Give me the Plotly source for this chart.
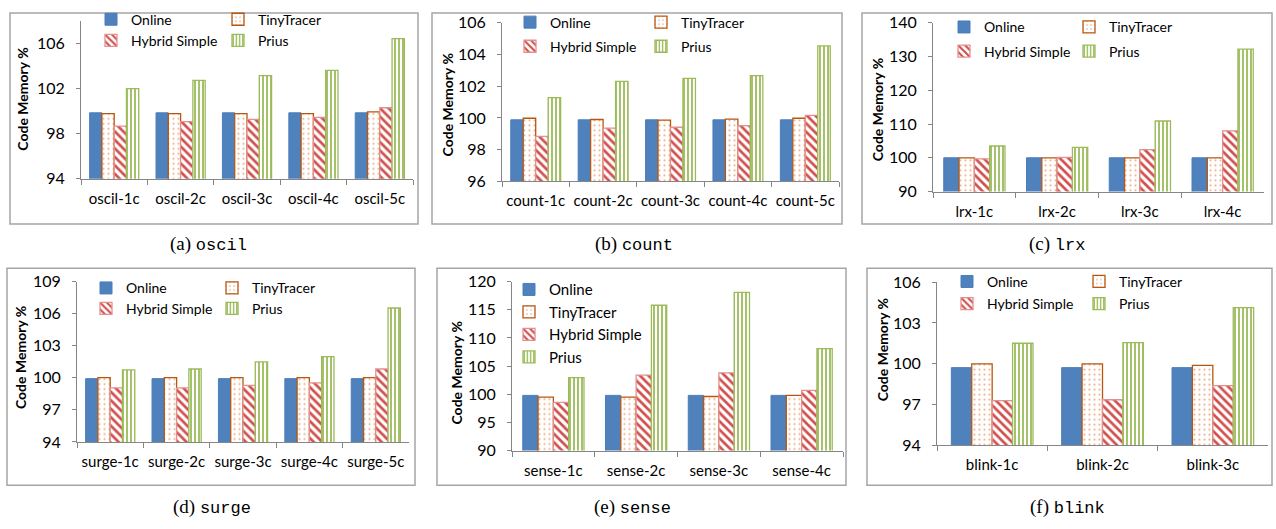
import plotly.graph_objects as go

W, H = 1276, 529

# ---------------- data ----------------
series_names = ["Online", "TinyTracer", "Hybrid Simple", "Prius"]

oscil_cats = ["oscil-1c", "oscil-2c", "oscil-3c", "oscil-4c", "oscil-5c"]
oscil_online = [99.86, 99.86, 99.86, 99.86, 99.86]
oscil_tiny = [99.78, 99.78, 99.78, 99.78, 99.94]
oscil_hybrid = [98.68, 99.08, 99.28, 99.45, 100.31]
oscil_prius = [102.02, 102.74, 103.17, 103.63, 106.45]

count_cats = ["count-1c", "count-2c", "count-3c", "count-4c", "count-5c"]
count_online = [99.88, 99.88, 99.88, 99.88, 99.88]
count_tiny = [99.98, 99.90, 99.86, 99.92, 99.98]
count_hybrid = [98.84, 99.35, 99.41, 99.51, 100.16]
count_prius = [101.28, 102.31, 102.49, 102.67, 104.55]

lrx_cats = ["lrx-1c", "lrx-2c", "lrx-3c", "lrx-4c"]
lrx_online = [100.0, 100.0, 100.0, 100.0]
lrx_tiny = [100.0, 100.0, 100.0, 100.0]
lrx_hybrid = [99.7, 100.1, 102.4, 108.0]
lrx_prius = [103.5, 103.1, 110.9, 132.2]

surge_cats = ["surge-1c", "surge-2c", "surge-3c", "surge-4c", "surge-5c"]
surge_online = [99.92, 99.92, 99.92, 99.92, 99.92]
surge_tiny = [100.02, 100.02, 100.02, 100.02, 100.02]
surge_hybrid = [99.05, 99.05, 99.29, 99.53, 100.82]
surge_prius = [100.73, 100.82, 101.48, 101.97, 106.53]

sense_cats = ["sense-1c", "sense-2c", "sense-3c", "sense-4c"]
sense_online = [99.8, 99.8, 99.8, 99.8]
sense_tiny = [99.48, 99.5, 99.6, 99.8]
sense_hybrid = [98.56, 103.4, 103.8, 100.67]
sense_prius = [102.96, 115.8, 118.1, 108.1]

blink_cats = ["blink-1c", "blink-2c", "blink-3c"]
blink_online = [99.72, 99.72, 99.72]
blink_tiny = [100.0, 100.0, 99.88]
blink_hybrid = [97.29, 97.36, 98.4]
blink_prius = [101.51, 101.56, 104.13]

y_ranges = [(94, 108, 4), (96, 106, 2), (90, 140, 10), (94, 109, 3), (90, 120, 5), (94, 106, 3)]
captions = [("a", "oscil"), ("b", "count"), ("c", "lrx"), ("d", "surge"), ("e", "sense"), ("f", "blink")]
y_title = "Code Memory %"

# ---------------- layout geometry (pixels) ----------------
# plot area: x0, x1, ytop, ybottom
areas = [
    (81, 413, 11.7, 175),
    (502, 839, 13.3, 177.7),
    (933, 1264, 13.3, 188.3),
    (77, 409, 281.7, 448),
    (512, 843, 281.7, 457),
    (937, 1268, 282.3, 451.7),
]
boxes = [
    (10, 3, 418, 222),
    (432, 3, 842, 222),
    (862, 3, 1272, 222),
    (7, 268, 415, 493),
    (437, 268, 846, 493),
    (867, 268, 1272, 493),
]
caption_pos = [(208, 243), (634, 243), (1057, 243), (212, 516), (632, 516), (1067, 516)]
ytitle_pos = [(23, 93), (447, 99), (877, 104), (20, 361), (456, 376), (882, 353)]
# legend: (marker x of col1, stride, row1 y, row2 y)
legend_pos = [
    (114, 127, 19, 41),
    (533, 131, 22, 47),
    (967, 125, 27, 52),
    (109, 126, 297.7, 319),
    None,
    (970, 132, 291, 314),
]

styles = [
    dict(marker=dict(color="#4F81BD", line=dict(color="#4A7EBB", width=1))),
    dict(marker=dict(color="white", line=dict(color="#B8560F", width=1.3),
                     pattern=dict(shape=".", fgcolor="#EDB089", bgcolor="white",
                                  size=5, solidity=0.15, fillmode="replace"))),
    dict(marker=dict(color="white", line=dict(color="#E3908E", width=1.3),
                     pattern=dict(shape="\\", fgcolor="#D0504D", bgcolor="white",
                                  size=6, solidity=0.45, fillmode="replace"))),
    dict(marker=dict(color="white", line=dict(color="#9BBB59", width=1.3),
                     pattern=dict(shape="|", fgcolor="#9BBB59", bgcolor="white",
                                  size=4, solidity=0.45, fillmode="replace"))),
]

panels = [
    (oscil_cats, [oscil_online, oscil_tiny, oscil_hybrid, oscil_prius]),
    (count_cats, [count_online, count_tiny, count_hybrid, count_prius]),
    (lrx_cats, [lrx_online, lrx_tiny, lrx_hybrid, lrx_prius]),
    (surge_cats, [surge_online, surge_tiny, surge_hybrid, surge_prius]),
    (sense_cats, [sense_online, sense_tiny, sense_hybrid, sense_prius]),
    (blink_cats, [blink_online, blink_tiny, blink_hybrid, blink_prius]),
]

FONT = "Lato, 'Open Sans', sans-serif"
AXC = "#868686"

fig = go.Figure()
layout = dict(
    width=W, height=H, margin=dict(l=0, r=0, t=0, b=0),
    paper_bgcolor="white", plot_bgcolor="white",
    barmode="group", bargap=0.26, bargroupgap=0.0,
    font=dict(family=FONT, color="black"),
    showlegend=True,
)
shapes = []
annotations = []
legend_counter = [0]


def new_legend(font_size=14, **kw):
    legend_counter[0] += 1
    n = legend_counter[0]
    name = "legend" if n == 1 else f"legend{n}"
    layout[name] = dict(bgcolor="rgba(0,0,0,0)", borderwidth=0,
                        font=dict(family=FONT, size=font_size, color="black"),
                        xanchor="left", traceorder="normal", **kw)
    return name


LEG_DY = -9
for i, (cats, vals) in enumerate(panels):
    idx = "" if i == 0 else str(i + 1)
    x0, x1, yt, yb = areas[i]
    lo, hi, dt = y_ranges[i]
    lp = legend_pos[i]
    if lp is not None:
        mx, stride, r1, r2 = lp
        lx = (mx - 23) / W
        l1 = new_legend(orientation="h", x=lx, y=1 - (r1 + LEG_DY) / H, yanchor="middle",
                        entrywidth=stride - 45, entrywidthmode="pixels")
        l2 = new_legend(orientation="h", x=lx, y=1 - (r2 + LEG_DY) / H, yanchor="middle",
                        entrywidth=stride - 45, entrywidthmode="pixels")
        legs = [l1, l1, l2, l2]
    else:
        lv = new_legend(font_size=15, orientation="v", x=(532 - 23) / W, y=1 - 273 / H,
                        yanchor="top", tracegroupgap=0)
        legs = [lv, lv, lv, lv]
    for k in range(4):
        fig.add_trace(go.Bar(
            x=cats, y=vals[k], name=series_names[k],
            xaxis="x" + idx, yaxis="y" + idx, legend=legs[k],
            hoverinfo="x+y+name", **styles[k]))
    layout["xaxis" + idx] = dict(
        domain=[x0 / W, x1 / W], anchor="y" + idx, type="category",
        showline=True, linecolor=AXC, linewidth=1,
        ticks="outside", tickson="boundaries", ticklen=5, tickcolor=AXC,
        tickangle=0,
        tickfont=dict(family=FONT, size=15, color="black"),
        ticklabelstandoff=6, showgrid=False, zeroline=False, fixedrange=True,
    )
    layout["yaxis" + idx] = dict(
        domain=[1 - yb / H, 1 - yt / H], anchor="x" + idx,
        range=[lo, hi], tick0=lo, dtick=dt, tickmode="linear",
        showline=True, linecolor=AXC, linewidth=1,
        ticks="outside", ticklen=4, tickcolor=AXC,
        tickfont=dict(family=FONT, size=16, color="black"),
        ticklabelstandoff=8, showgrid=False, zeroline=False, fixedrange=True,
    )
    tx, ty = ytitle_pos[i]
    annotations.append(dict(
        xref="paper", yref="paper", x=tx / W, y=1 - ty / H, showarrow=False,
        xanchor="center", yanchor="middle", textangle=-90,
        text=f"<b>{y_title}</b>",
        font=dict(family=FONT, size=14, color="black"),
    ))
    bx0, by0, bx1, by1 = boxes[i]
    shapes.append(dict(type="rect", xref="paper", yref="paper",
                       x0=bx0 / W, x1=bx1 / W, y0=1 - by1 / H, y1=1 - by0 / H,
                       line=dict(color="#A5A5A5", width=1.5), fillcolor="rgba(0,0,0,0)", layer="below"))
    letter, word = captions[i]
    cx, cy = caption_pos[i]
    annotations.append(dict(
        xref="paper", yref="paper", x=cx / W, y=1 - cy / H, showarrow=False,
        xanchor="center", yanchor="middle",
        text=f"({letter}) <span style='font-family:\"Liberation Mono\", monospace; font-size:17px'>{word}</span>",
        font=dict(family="'Liberation Serif', 'Times New Roman', serif", size=19, color="black"),
    ))

layout["shapes"] = shapes
layout["annotations"] = annotations
fig.update_layout(**layout)
fig.write_html("out.html")
